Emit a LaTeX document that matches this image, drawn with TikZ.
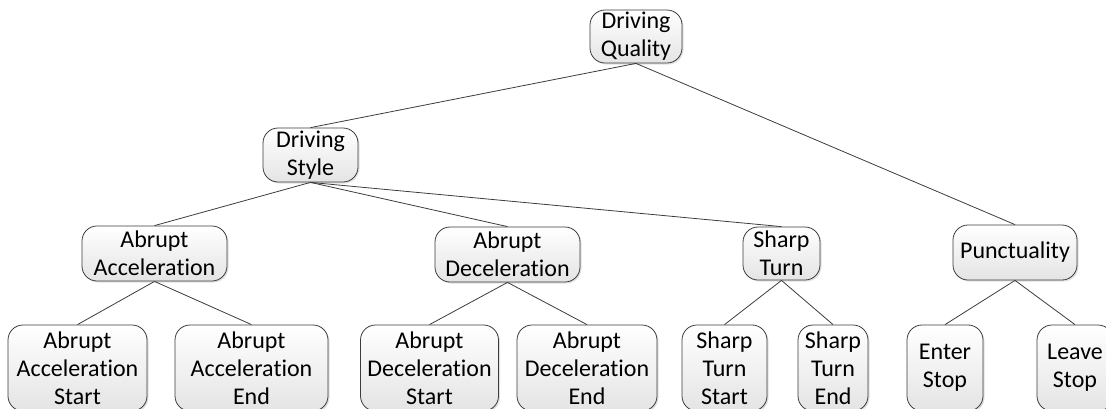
\documentclass[tikz,border=0pt]{standalone}
\usepackage{fontspec}
\setmainfont{Carlito}[RawFeature={-liga}]
\usetikzlibrary{shadows}
\definecolor{edgecol}{HTML}{3C3C3C}
\definecolor{boxbot}{HTML}{E4E4E4}
\begin{document}
\begin{tikzpicture}[x=1pt,y=-1pt,
  box/.style={draw=edgecol, line width=0.8pt, rounded corners=15pt,
    top color=white, bottom color=boxbot, inner sep=0pt, align=center,
    font=\fontsize{24}{28}\selectfont,
    drop shadow={shadow xshift=1.5pt, shadow yshift=-1.5pt, fill=black, opacity=0.12}},
  link/.style={draw=edgecol, line width=0.8pt}]
\useasboundingbox (0,0) rectangle (1106,408);
% level 0
\node[box, minimum width=92pt, minimum height=53pt] (dq) at (636,36.5) {Driving\\Quality};
% level 1
\node[box, minimum width=95pt, minimum height=54pt] (ds) at (310.5,155) {Driving\\Style};
% level 2
\node[box, minimum width=145pt, minimum height=55pt] (aa) at (154.5,253.5) {Abrupt\\Acceleration};
\node[box, minimum width=145pt, minimum height=55pt] (ad) at (507.5,254.5) {Abrupt\\Deceleration};
\node[box, minimum width=77pt, minimum height=53pt] (st) at (781.5,253.5) {Sharp\\Turn};
\node[box, minimum width=124pt, minimum height=55pt] (pu) at (1015,252.5) {Punctuality};
% level 3
\node[box, minimum width=139pt, minimum height=86pt] (aas) at (77.5,368) {Abrupt\\Acceleration\\Start};
\node[box, minimum width=153pt, minimum height=86pt] (aae) at (251.5,368) {Abrupt\\Acceleration\\End};
\node[box, minimum width=138pt, minimum height=86pt] (ads) at (429.5,368) {Abrupt\\Deceleration\\Start};
\node[box, minimum width=140pt, minimum height=86pt] (ade) at (587,368) {Abrupt\\Deceleration\\End};
\node[box, minimum width=85pt, minimum height=86pt] (sts) at (724.5,368) {Sharp\\Turn\\Start};
\node[box, minimum width=70pt, minimum height=86pt] (ste) at (833,368) {Sharp\\Turn\\End};
\node[box, minimum width=76pt, minimum height=86pt] (es) at (945,368) {Enter\\Stop};
\node[box, minimum width=76pt, minimum height=86pt] (ls) at (1075,368) {Leave\\Stop};
% connectors
\draw[link] (dq.south) -- (ds.north);
\draw[link] (dq.south) -- (pu.north);
\draw[link] (ds.south) -- (aa.north);
\draw[link] (ds.south) -- (ad.north);
\draw[link] (ds.south) -- (st.north);
\draw[link] (aa.south) -- (aas.north);
\draw[link] (aa.south) -- (aae.north);
\draw[link] (ad.south) -- (ads.north);
\draw[link] (ad.south) -- (ade.north);
\draw[link] (st.south) -- (sts.north);
\draw[link] (st.south) -- (ste.north);
\draw[link] (pu.south) -- (es.north);
\draw[link] (pu.south) -- (ls.north);
\end{tikzpicture}
\end{document}
